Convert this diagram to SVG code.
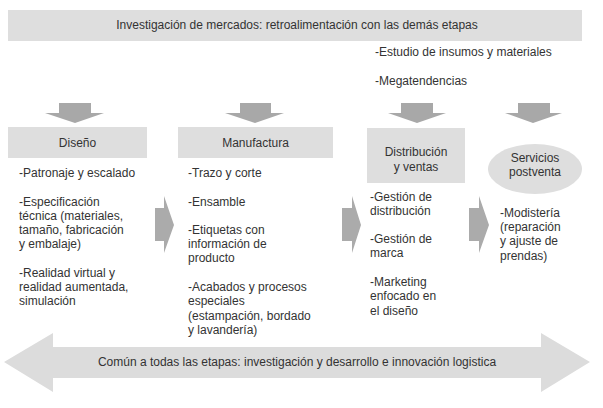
<svg xmlns="http://www.w3.org/2000/svg" width="603" height="408" viewBox="0 0 603 408">
<style>
text{font-family:"Liberation Sans",Arial,sans-serif;font-size:12px;fill:#333333}
.c{text-anchor:middle}
.box{fill:#dedede}
.down{fill:#a8a8a8}
.right{fill:#ababab}
</style>
<rect width="603" height="408" fill="#ffffff"/>
<g id="investigacion">
<rect class="box" x="8" y="10" width="574" height="31"/>
<text class="c" x="297" y="29">Investigación de mercados: retroalimentación con las demás etapas</text>
<text x="375" y="56">-Estudio de insumos y materiales</text>
<text x="375" y="85">-Megatendencias</text>
</g>
<g id="connectors">
<polygon class="down" points="59,103 91,103 91,113 104,113 75,123 45,113 59,113"/>
<polygon class="down" points="240,103 271,103 271,113 284,113 255,123 225,113 240,113"/>
<polygon class="down" points="401,103 433,103 433,113 446,113 417,123 388,113 401,113"/>
<polygon class="down" points="518,103 550,103 550,113 562,113 533,123 505,113 518,113"/>
<polygon class="right" points="155,208 164,208 164,196 174,225 164,253 164,241 155,241"/>
<polygon class="right" points="342,208 352,208 352,196 361,225 352,253 352,241 342,241"/>
<polygon class="right" points="469,208 479,208 479,196 489,225 479,253 479,241 469,241"/>
</g>
<g id="diseno">
<rect class="box" x="8" y="127" width="139" height="31"/>
<text class="c" x="77.5" y="147">Diseño</text>
<text x="19" y="177">-Patronaje y escalado</text>
<text x="19" y="206">-Especificación</text>
<text x="19" y="220">técnica (materiales,</text>
<text x="19" y="234">tamaño, fabricación</text>
<text x="19" y="248">y embalaje)</text>
<text x="19" y="277">-Realidad virtual y</text>
<text x="19" y="291">realidad aumentada,</text>
<text x="19" y="305">simulación</text>
</g>
<g id="manufactura">
<rect class="box" x="178" y="127" width="155" height="31"/>
<text class="c" x="255.5" y="147">Manufactura</text>
<text x="188" y="177">-Trazo y corte</text>
<text x="188" y="206">-Ensamble</text>
<text x="188" y="234">-Etiquetas con</text>
<text x="188" y="248">información de</text>
<text x="188" y="262">producto</text>
<text x="188" y="291">-Acabados y procesos</text>
<text x="188" y="305">especiales</text>
<text x="188" y="320">(estampación, bordado</text>
<text x="188" y="334">y lavandería)</text>
</g>
<g id="distribucion">
<rect class="box" x="367" y="128" width="98" height="55"/>
<text class="c" x="416" y="156">Distribución</text>
<text class="c" x="416" y="171">y ventas</text>
<text x="370" y="201">-Gestión de</text>
<text x="370" y="215">distribución</text>
<text x="370" y="243">-Gestión de</text>
<text x="370" y="257">marca</text>
<text x="370" y="286">-Marketing</text>
<text x="370" y="300">enfocado en</text>
<text x="370" y="315">el diseño</text>
</g>
<g id="servicios">
<ellipse class="box" cx="535" cy="169" rx="47" ry="25"/>
<text class="c" x="535" y="162">Servicios</text>
<text class="c" x="535" y="176">postventa</text>
<text x="500" y="217">-Modistería</text>
<text x="500" y="231">(reparación</text>
<text x="500" y="245">y ajuste de</text>
<text x="500" y="260">prendas)</text>
</g>
<g id="comun">
<polygon fill="#dcdcdc" points="4,362 53,333 53,347 541,347 541,333 590,362 541,392 541,378 53,378 53,392"/>
<text class="c" x="297" y="366">Común a todas las etapas: investigación y desarrollo e innovación logistica</text>
</g>
</svg>
